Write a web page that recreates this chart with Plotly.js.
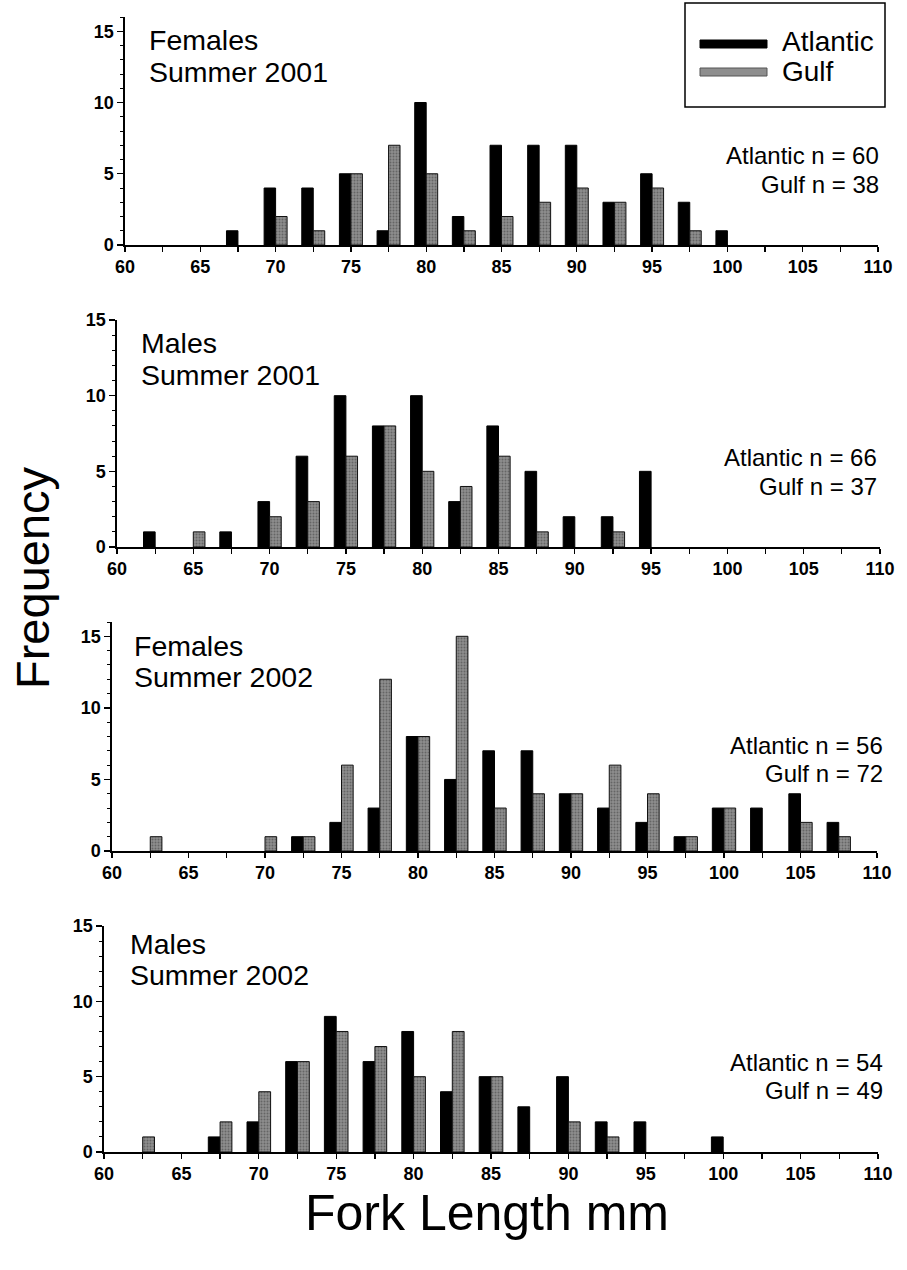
<!DOCTYPE html>
<html>
<head>
<meta charset="utf-8">
<script src="https://cdn.plot.ly/plotly-3.0.1.min.js"></script>
<style>
  html, body { margin: 0; padding: 0; background: #fff; }
  #chart { width: 907px; height: 1270px; }
</style>
</head>
<body>
<div id="chart"></div>
<script>
// Fork length bins (mm), centre of each 2.5 mm class
const bins = [62.5, 65, 67.5, 70, 72.5, 75, 77.5, 80, 82.5, 85, 87.5, 90, 92.5, 95, 97.5, 100, 102.5, 105, 107.5];

// Females Summer 2001
const f2001Atlantic = [0, 0, 1, 4, 4, 5, 1, 10, 2, 7, 7, 7, 3, 5, 3, 1, 0, 0, 0];
const f2001Gulf     = [0, 0, 0, 2, 1, 5, 7, 5, 1, 2, 3, 4, 3, 4, 1, 0, 0, 0, 0];
// Males Summer 2001
const m2001Atlantic = [1, 0, 1, 3, 6, 10, 8, 10, 3, 8, 5, 2, 2, 5, 0, 0, 0, 0, 0];
const m2001Gulf     = [0, 1, 0, 2, 3, 6, 8, 5, 4, 6, 1, 0, 1, 0, 0, 0, 0, 0, 0];
// Females Summer 2002
const f2002Atlantic = [0, 0, 0, 0, 1, 2, 3, 8, 5, 7, 7, 4, 3, 2, 1, 3, 3, 4, 2];
const f2002Gulf     = [1, 0, 0, 1, 1, 6, 12, 8, 15, 3, 4, 4, 6, 4, 1, 3, 0, 2, 1];
// Males Summer 2002
const m2002Atlantic = [0, 0, 1, 2, 6, 9, 6, 8, 4, 5, 3, 5, 2, 2, 0, 1, 0, 0, 0];
const m2002Gulf     = [1, 0, 2, 4, 6, 8, 7, 5, 8, 5, 0, 2, 1, 0, 0, 0, 0, 0, 0];

const panelTitles = [["Females", "Summer 2001"], ["Males", "Summer 2001"], ["Females", "Summer 2002"], ["Males", "Summer 2002"]];
const nLabels = [["Atlantic n = 60", "Gulf n = 38"], ["Atlantic n = 66", "Gulf n = 37"], ["Atlantic n = 56", "Gulf n = 72"], ["Atlantic n = 54", "Gulf n = 49"]];
const seriesNames = ["Atlantic", "Gulf"];
const xTickVals = [60, 65, 70, 75, 80, 85, 90, 95, 100, 105, 110];
const yTickVals = [0, 5, 10, 15];

const panels = [
  {a: f2001Atlantic, g: f2001Gulf},
  {a: m2001Atlantic, g: m2001Gulf},
  {a: f2002Atlantic, g: f2002Gulf},
  {a: m2002Atlantic, g: m2002Gulf}
];

const W = 907, H = 1270;
const px = v => v / W;
const py = v => 1 - v / H;
const hideZero = arr => arr.map(v => (v === 0 ? null : v));

// layout geometry (pixels)
const geo = [
  {x0: 125, x1: 878, top: 17,  bot: 245,  ymax: 16, tl: 147, t1: 40,  t2: 72,  n1: 155,  n2: 184,  nr: 881},
  {x0: 117, x1: 880, top: 320, bot: 547,  ymax: 15, tl: 139, t1: 343, t2: 375, n1: 457,  n2: 486,  nr: 879},
  {x0: 112, x1: 877, top: 622, bot: 851,  ymax: 16, tl: 132, t1: 646, t2: 677, n1: 745,  n2: 773,  nr: 885},
  {x0: 104, x1: 878, top: 926, bot: 1152, ymax: 15, tl: 128, t1: 944, t2: 975, n1: 1062, n2: 1090, nr: 885}
];

const FONT = "Liberation Sans, Arial, Helvetica, sans-serif";
const traces = [];
const layout = {
  width: W, height: H,
  margin: {l: 0, r: 0, t: 0, b: 0},
  paper_bgcolor: "#fff", plot_bgcolor: "rgba(0,0,0,0)",
  showlegend: false,
  barmode: "group", bargap: 0.39, bargroupgap: 0,
  font: {family: FONT, color: "#000"},
  annotations: [], shapes: []
};

panels.forEach((p, i) => {
  const k = i === 0 ? "" : String(i + 1);
  const g = geo[i];
  traces.push({
    type: "bar", x: bins, y: hideZero(p.a), name: seriesNames[0],
    xaxis: "x" + k, yaxis: "y" + k,
    marker: {color: "#000", line: {color: "#000", width: 1}},
    hoverinfo: "x+y+name"
  });
  traces.push({
    type: "bar", x: bins, y: hideZero(p.g), name: seriesNames[1],
    xaxis: "x" + k, yaxis: "y" + k,
    marker: {color: "#8e8e8e", line: {color: "#111", width: 1},
             pattern: {shape: ".", fillmode: "overlay", fgcolor: "#3c3c3c", size: 3, solidity: 0.35}},
    hoverinfo: "x+y+name"
  });
  layout["xaxis" + k] = {
    domain: [px(g.x0), px(g.x1)], anchor: "y" + k,
    range: [60, 110], tickvals: xTickVals, ticktext: xTickVals.map(String),
    ticks: "outside", ticklen: 5, tickwidth: 1.3, tickcolor: "#000",
    minor: {tickvals: bins, ticks: "outside", ticklen: 5, tickwidth: 1.3, tickcolor: "#000", showgrid: false},
    showline: true, linecolor: "#000", linewidth: 1.6,
    showgrid: false, zeroline: false, fixedrange: true,
    tickfont: {family: FONT, size: 18, color: "#000", weight: "bold"}
  };
  layout["yaxis" + k] = {
    domain: [py(g.bot), py(g.top)], anchor: "x" + k,
    range: [0, g.ymax], tickvals: yTickVals,
    ticks: "outside", ticklen: 6, tickwidth: 1.3, tickcolor: "#000",
    minor: {dtick: 1, ticks: "outside", ticklen: 3, tickwidth: 1, tickcolor: "#000", showgrid: false},
    showline: true, linecolor: "#000", linewidth: 1.6,
    showgrid: false, zeroline: false, fixedrange: true,
    tickfont: {family: FONT, size: 18, color: "#000", weight: "bold"}
  };
  // panel titles
  layout.annotations.push({xref: "paper", yref: "paper", x: px(g.tl), y: py(g.t1), xanchor: "left", yanchor: "middle",
    text: panelTitles[i][0], showarrow: false, font: {family: FONT, size: 28.5, color: "#000"}});
  layout.annotations.push({xref: "paper", yref: "paper", x: px(g.tl), y: py(g.t2), xanchor: "left", yanchor: "middle",
    text: panelTitles[i][1], showarrow: false, font: {family: FONT, size: 28.5, color: "#000"}});
  // sample sizes
  layout.annotations.push({xref: "paper", yref: "paper", x: px(g.nr), y: py(g.n1), xanchor: "right", yanchor: "middle",
    text: nLabels[i][0], showarrow: false, font: {family: FONT, size: 24, color: "#000"}});
  layout.annotations.push({xref: "paper", yref: "paper", x: px(g.nr), y: py(g.n2), xanchor: "right", yanchor: "middle",
    text: nLabels[i][1], showarrow: false, font: {family: FONT, size: 24, color: "#000"}});
});

// axis titles
layout.annotations.push({xref: "paper", yref: "paper", x: px(32), y: py(578), xanchor: "center", yanchor: "middle",
  text: "Frequency", textangle: -90, showarrow: false, font: {family: FONT, size: 47, color: "#000"}});
layout.annotations.push({xref: "paper", yref: "paper", x: px(487), y: py(1213), xanchor: "center", yanchor: "middle",
  text: "Fork Length mm", showarrow: false, font: {family: FONT, size: 50, color: "#000"}});

// legend (drawn box)
layout.shapes.push({type: "rect", xref: "paper", yref: "paper", x0: px(685), x1: px(885), y0: py(107), y1: py(3),
  line: {color: "#000", width: 1.5}, fillcolor: "rgba(0,0,0,0)"});
layout.shapes.push({type: "rect", xref: "paper", yref: "paper", x0: px(700), x1: px(767), y0: py(48), y1: py(40),
  line: {color: "#000", width: 1}, fillcolor: "#000"});
layout.shapes.push({type: "rect", xref: "paper", yref: "paper", x0: px(700), x1: px(767), y0: py(76), y1: py(68),
  line: {color: "#555", width: 1}, fillcolor: "#8e8e8e"});
layout.annotations.push({xref: "paper", yref: "paper", x: px(780), y: py(42), xanchor: "left", yanchor: "middle",
  text: seriesNames[0], showarrow: false, font: {family: FONT, size: 28, color: "#000"}});
layout.annotations.push({xref: "paper", yref: "paper", x: px(780), y: py(71), xanchor: "left", yanchor: "middle",
  text: seriesNames[1], showarrow: false, font: {family: FONT, size: 28, color: "#000"}});

Plotly.newPlot("chart", traces, layout, {displayModeBar: false, staticPlot: true});
</script>
</body>
</html>
